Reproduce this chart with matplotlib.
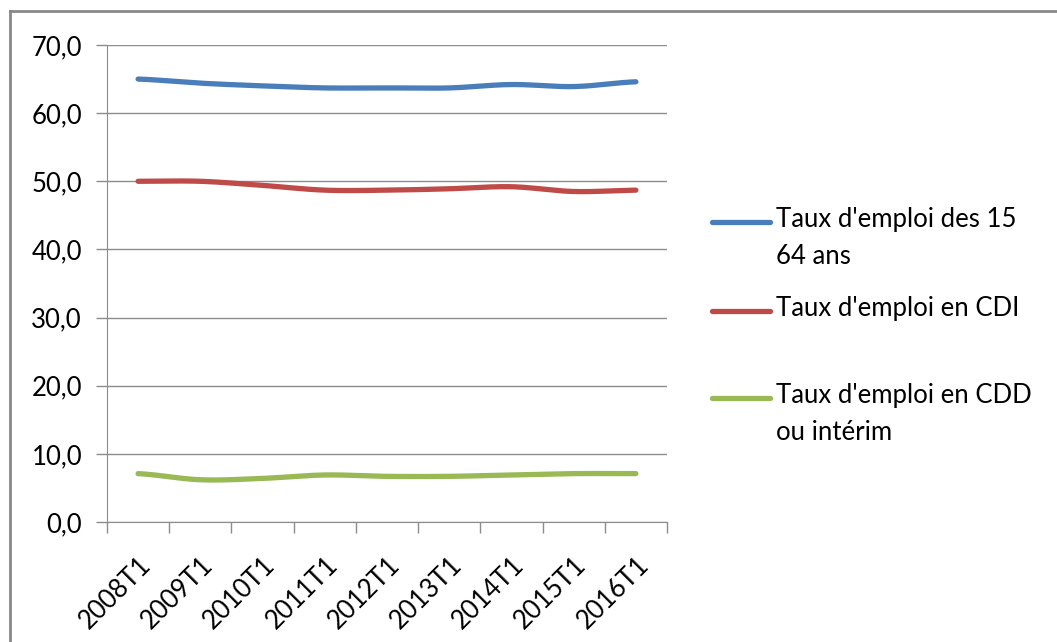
import numpy as np
import matplotlib
matplotlib.use("Agg")
import matplotlib.pyplot as plt
from matplotlib.lines import Line2D

### données
periodes = ["2008T1", "2009T1", "2010T1", "2011T1", "2012T1",
            "2013T1", "2014T1", "2015T1", "2016T1"]
taux_15_64 = [65.0, 64.4, 64.0, 63.7, 63.7, 63.7, 64.2, 63.9, 64.6]
taux_cdi = [50.0, 50.0, 49.4, 48.7, 48.7, 48.9, 49.2, 48.5, 48.7]
taux_cdd = [7.1, 6.2, 6.4, 6.9, 6.7, 6.7, 6.9, 7.1, 7.1]

series = [
    ("Taux d'emploi des 15\n64 ans", taux_15_64, "#4A7EBB"),
    ("Taux d'emploi en CDI", taux_cdi, "#BE4B48"),
    ("Taux d'emploi en CDD\nou intérim", taux_cdd, "#98B954"),
]

plt.rcParams["font.family"] = ["Lato", "DejaVu Sans"]
fs = 18.5


## lissage type Excel (Catmull-Rom) pour le tracé seulement
def lisse(x, y, n=30):
    x = np.asarray(x, float)
    y = np.asarray(y, float)
    px = np.concatenate([[2 * x[0] - x[1]], x, [2 * x[-1] - x[-2]]])
    py = np.concatenate([[y[0]], y, [y[-1]]])
    xs, ys = [], []
    for i in range(1, len(px) - 2):
        t = np.linspace(0, 1, n, endpoint=False)
        for p, out in ((px, xs), (py, ys)):
            p0, p1, p2, p3 = p[i - 1], p[i], p[i + 1], p[i + 2]
            out.extend(0.5 * ((2 * p1) + (-p0 + p2) * t
                              + (2 * p0 - 5 * p1 + 4 * p2 - p3) * t ** 2
                              + (-p0 + 3 * p1 - 3 * p2 + p3) * t ** 3))
    xs.append(x[-1])
    ys.append(y[-1])
    return np.array(xs), np.array(ys)


fig = plt.figure(figsize=(10.57, 6.42), dpi=100)
ax = fig.add_axes([107 / 1057, 1 - 522 / 642, 560 / 1057, 477 / 642])

# cadre extérieur (haut et gauche seulement visibles)
fig.add_artist(Line2D([10 / 1057, 10 / 1057], [0, 1 - 11 / 642],
                      transform=fig.transFigure, color="#888888", lw=2))
fig.add_artist(Line2D([10 / 1057, 1], [1 - 11 / 642, 1 - 11 / 642],
                      transform=fig.transFigure, color="#888888", lw=2))

x = np.arange(len(periodes))
for nom, vals, col in series:
    xs, ys = lisse(x, vals)
    ax.plot(xs, ys, color=col, lw=3.8, solid_capstyle="round", zorder=3)

ax.set_xlim(-0.5, len(periodes) - 0.5)
ax.set_ylim(0, 70)
ax.set_yticks(np.arange(0, 71, 10))
ax.set_yticklabels([("%.1f" % v).replace(".", ",") for v in np.arange(0, 71, 10)])
ax.yaxis.grid(True, color="#8c8c8c", lw=1)
ax.set_axisbelow(True)

ax.set_xticks(np.arange(-0.5, len(periodes)), minor=False)
ax.set_xticklabels([])
ax.set_xticks(x, minor=True)
ax.set_xticklabels(periodes, minor=True, rotation=45, ha="right",
                   rotation_mode="anchor", fontsize=fs)
ax.tick_params(axis="x", which="minor", length=0, pad=22)
ax.tick_params(axis="x", which="major", length=8, color="#8c8c8c", width=1)
ax.tick_params(axis="y", length=8, color="#8c8c8c", width=1, labelsize=fs, pad=10)

for s in ["top", "right"]:
    ax.spines[s].set_visible(False)
for s in ["left", "bottom"]:
    ax.spines[s].set_color("#8c8c8c")

# légende dessinée à la main
pos_y = [222, 311, 398]
for (nom, vals, col), py in zip(series, pos_y):
    yf = 1 - py / 642
    fig.add_artist(Line2D([712 / 1057, 770 / 1057], [yf, yf],
                          transform=fig.transFigure, color=col, lw=3.8,
                          solid_capstyle="round"))
    fig.text(776 / 1057, yf + 15 / 642, nom, fontsize=fs, va="top",
             ha="left", linespacing=1.6)

fig.savefig("out.png", dpi=100)
